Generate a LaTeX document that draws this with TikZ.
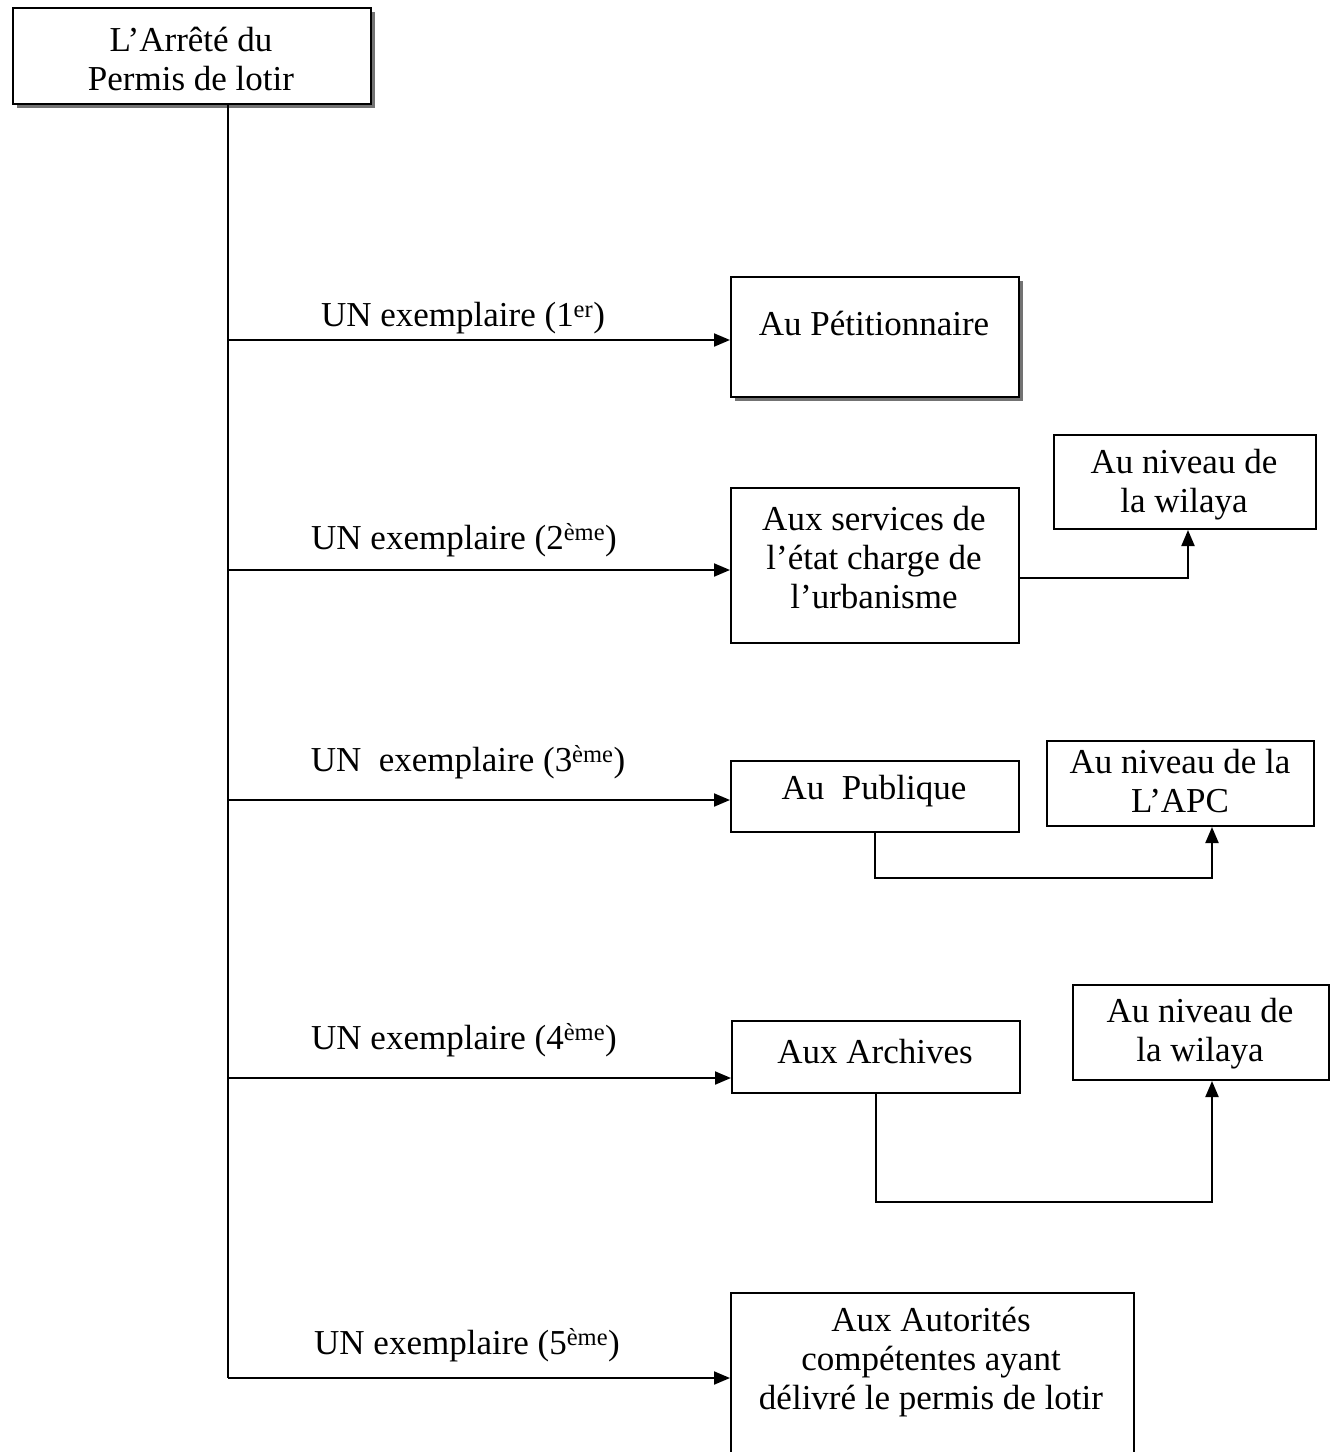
\documentclass[tikz,border=0pt]{standalone}
\usepackage{fontspec}
\setmainfont{Liberation Serif}
\usetikzlibrary{arrows.meta}
\begin{document}
\begin{tikzpicture}[x=1pt,y=-1pt,
  every node/.style={font=\fontsize{35}{39}\selectfont, align=center},
  box/.style={draw, line width=2pt, rectangle, inner sep=0pt, anchor=north west, fill=white},
  txt/.style={inner sep=0pt},
  shad/.style={fill=black!55},
  ln/.style={line width=2pt},
  arr/.style={line width=2pt, -{Triangle[length=16pt,width=13pt]}}]
\useasboundingbox (0,0) rectangle (1333,1452);
\clip (0,0) rectangle (1333,1452);
% shadows
\fill[shad] (17,12) rectangle (375,108);
\fill[shad] (735,281) rectangle (1023,401);
% boxes
\node[box, minimum width=358pt, minimum height=96pt] (top) at (12,7) {};
\node[txt] at (191,59) {L’Arrêté du\\Permis de lotir};
\node[box, minimum width=288pt, minimum height=120pt] (p1) at (730,276) {};
\node[txt] at (874,323) {Au Pétitionnaire};
\node[box, minimum width=288pt, minimum height=155pt] (s2) at (730,487) {};
\node[txt] at (874,558) {Aux services de\\l’état charge de\\l’urbanisme};
\node[box, minimum width=262pt, minimum height=94pt] (w1) at (1053,434) {};
\node[txt] at (1184,485) {Au niveau de\\la wilaya};
\node[box, minimum width=288pt, minimum height=71pt] (pub) at (730,760) {};
\node[txt] at (874,791) {Au\ \ Publique};
\node[box, minimum width=267pt, minimum height=85pt] (apc) at (1046,740) {};
\node[txt] at (1180,781) {Au niveau de la\\L’APC};
\node[box, minimum width=288pt, minimum height=72pt] (arc) at (731,1020) {};
\node[txt] at (875,1052) {Aux Archives};
\node[box, minimum width=256pt, minimum height=95pt] (w2) at (1072,984) {};
\node[txt] at (1200,1034) {Au niveau de\\la wilaya};
\node[box, minimum width=403pt, minimum height=180pt] (aut) at (730,1292) {};
\node[txt] at (931,1362) {Aux Autorités\\compétentes ayant\\délivré le permis de lotir};
% labels
\node[txt] (l1) at (463,318) {UN exemplaire (1\textsuperscript{er})};
\node[txt] (l2) at (464,540) {UN exemplaire (2\textsuperscript{ème})};
\node[txt] (l3) at (468,762) {UN\ \ exemplaire (3\textsuperscript{ème})};
\node[txt] (l4) at (464,1040) {UN exemplaire (4\textsuperscript{ème})};
\node[txt] (l5) at (467,1345) {UN exemplaire (5\textsuperscript{ème})};
% trunk and branches
\coordinate (b1) at (228,340);
\coordinate (b2) at (228,570);
\coordinate (b3) at (228,800);
\coordinate (b4) at (228,1078);
\coordinate (b5) at (228,1378);
\draw[ln] (top.south -| b5) -- (b5);
\draw[arr] (b1) -- (b1 -| p1.west);
\draw[arr] (b2) -- (b2 -| s2.west);
\draw[arr] (b3) -- (b3 -| pub.west);
\draw[arr] (b4) -- (b4 -| arc.west);
\draw[arr] (b5) -- (b5 -| aut.west);
% secondary connectors
\draw[arr] ([yshift=-12.5pt]s2.east) -| ([xshift=3pt]w1.south);
\draw[arr] (pub.south) -- ++(0,45) -| ([xshift=31.5pt]apc.south);
\draw[arr] (arc.south) -- ++(0,108) -| ([xshift=11pt]w2.south);
\end{tikzpicture}
\end{document}
